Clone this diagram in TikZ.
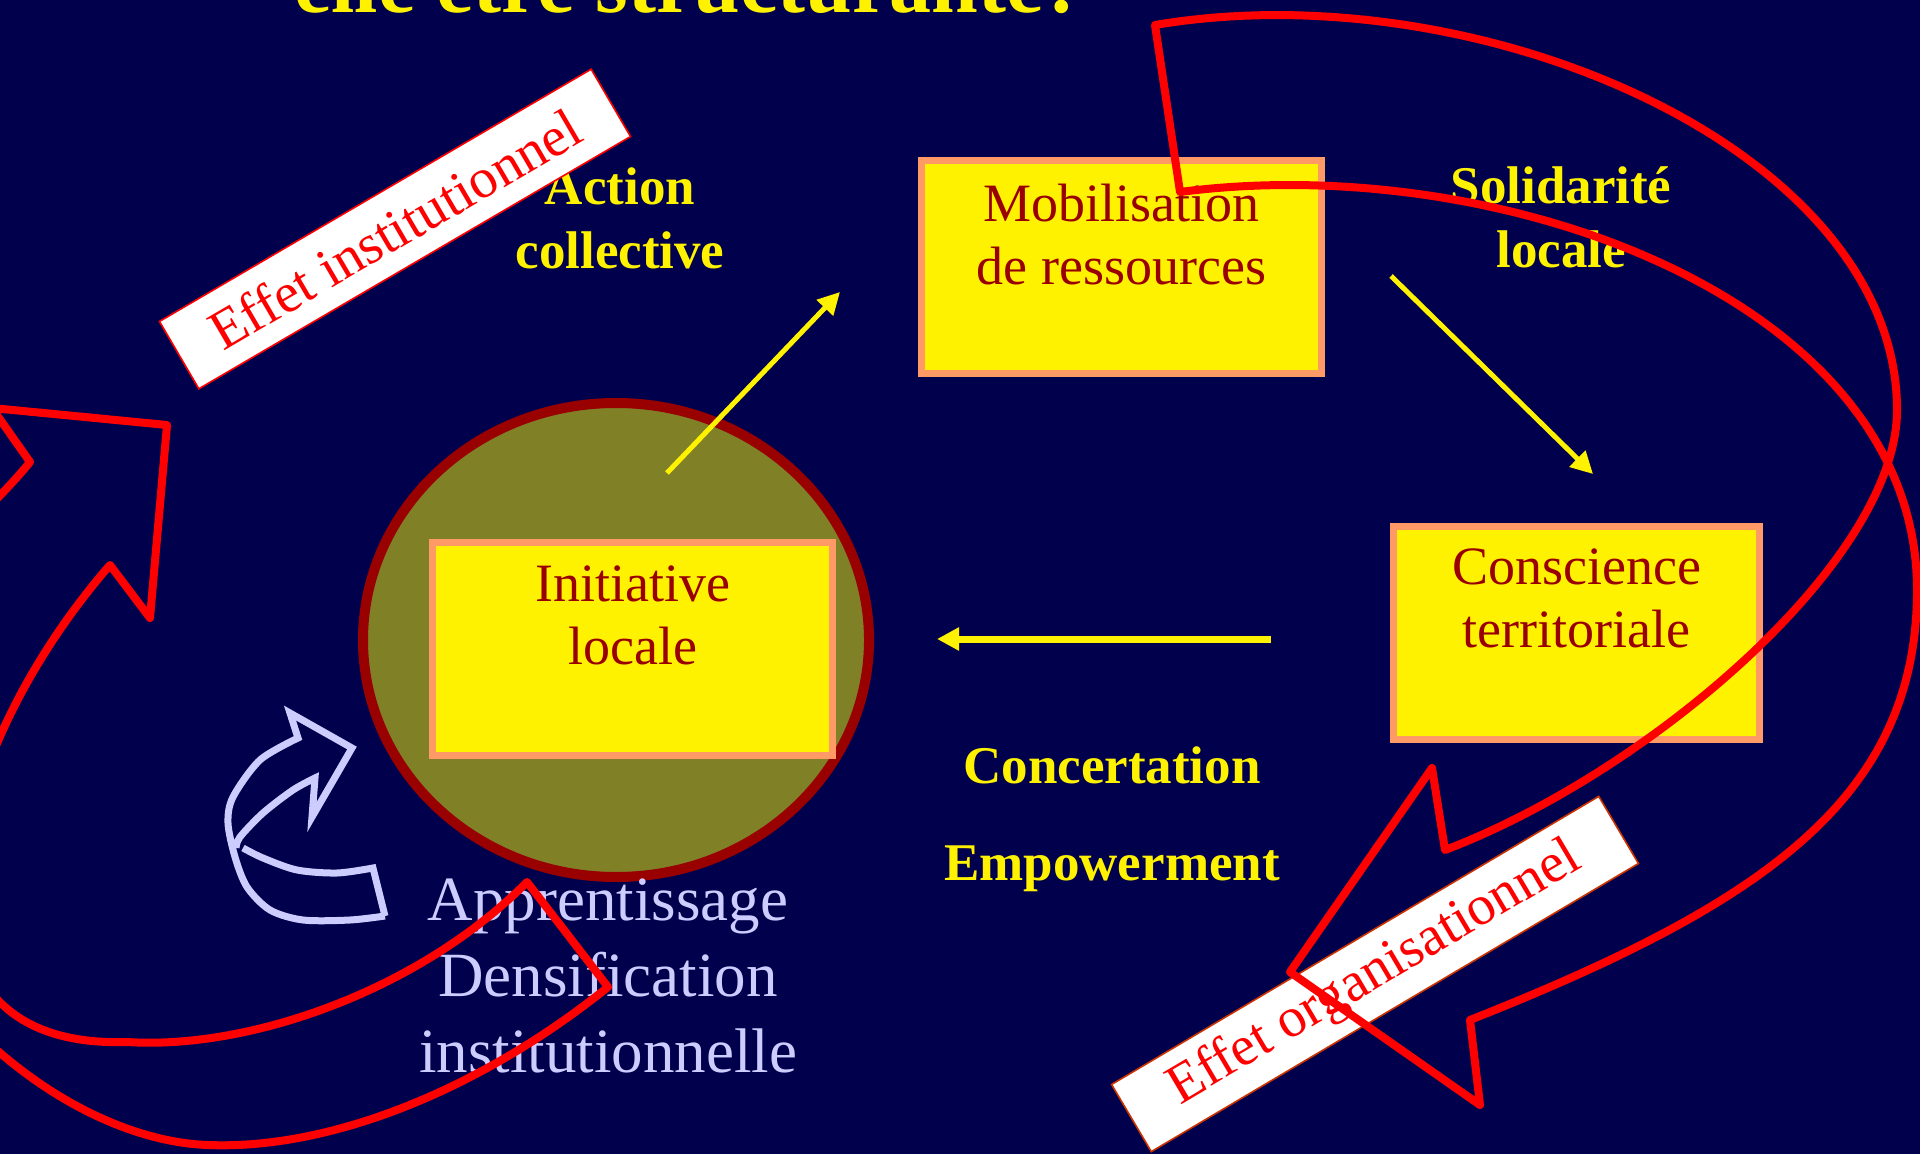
\documentclass[tikz,border=0pt]{standalone}
\usepackage{fontspec}
\setmainfont{Liberation Serif}
\usepackage{tikz}
\usetikzlibrary{shapes.geometric,arrows.meta}

\definecolor{bgblue}{RGB}{0,0,77}
\definecolor{boxedge}{RGB}{255,153,102}
\definecolor{boxred}{RGB}{153,0,0}
\definecolor{foyerolive}{RGB}{128,128,38}
\definecolor{lavender}{RGB}{204,204,255}
\definecolor{orgedge}{RGB}{204,51,0}

\begin{document}
\begin{tikzpicture}[x=0.5pt,y=-0.5pt,
    box/.style={draw=boxedge, fill=yellow, line width=3.5pt, minimum height=106.5pt, inner sep=0pt},
    boxtext/.style={text=boxred, font=\fontsize{27}{31.5}\selectfont, align=center, inner sep=0pt, anchor=north},
    keyword/.style={text=yellow, font=\bfseries\fontsize{26.5}{32}\selectfont, align=center, inner sep=0pt},
    tag/.style={draw=#1, fill=white, text=red, line width=0.8pt, font=\fontsize{28}{34}\selectfont, minimum height=39pt, inner sep=0pt},
    flowarrow/.style={draw=yellow, line width=2.5pt, -{Triangle[length=11pt,width=11pt]}},
    bigarrow/.style={draw=red, line width=4pt, line join=round},
    curlarrow/.style={draw=lavender, line width=3.5pt}]

    % Background
    \fill[bgblue] (0,0) rectangle (1920,1154);
    \useasboundingbox (0,0) rectangle (1920,1154);
    \clip (0,0) rectangle (1920,1154);

    % Title (cut by the top edge)
    \node[keyword, font=\bfseries\fontsize{42}{50}\selectfont, anchor=base] (title) at (690,13) {elle être structurante?};

    % Local focus
    \node[ellipse, draw=boxred, fill=foyerolive, line width=5pt, minimum width=253pt, minimum height=237pt, inner sep=0pt] (foyer) at (616,640) {};

    % Boxes
    \node[box, minimum width=200pt] (mob) at (1121.5,267) {};
    \node[box, minimum width=200pt] (init) at (632.5,649) {};
    \node[box, minimum width=183pt] (consc) at (1576.5,633) {};
    \node[boxtext] (mobtxt) at (1121.5,184) {Mobilisation\\de ressources};
    \node[boxtext] (inittxt) at (632.5,565) {Initiative\\locale};
    \node[boxtext] (consctxt) at (1576.5,548) {Conscience\\territoriale};

    % Cycle arrows
    \coordinate (act1) at (667,473);
    \coordinate (act2) at (840,292);
    \coordinate (sol1) at (1391,276);
    \coordinate (sol2) at (1593,474);
    \coordinate (con1) at (1271,639);
    \coordinate (con2) at (937,639);
    \draw[flowarrow] (act1) -- (act2);
    \draw[flowarrow] (sol1) -- (sol2);
    \draw[flowarrow, line width=3.5pt] (con1) -- (con2);

    % Labels
    \node[keyword, anchor=north] (action) at (620,167) {Action\\collective};
    \node[keyword, anchor=north] (solid) at (1561,166) {Solidarité\\locale};
    \node[keyword, anchor=base] (concert) at (1112,783) {Concertation};
    \node[keyword, anchor=base] (empow) at (1112,880) {Empowerment};
    \node[text=lavender, font=\fontsize{31.5}{38}\selectfont, align=center, inner sep=0pt, anchor=north] (appr) at (608,878) {Apprentissage\\Densification\\institutionnelle};

    % Learning loop
    \draw[curlarrow] (385,916) -- (373,868) -- plot[smooth] coordinates {(373,868) (337,873) (297,870) (263,858) (243,848)};
    \draw[curlarrow] plot[smooth] coordinates {(385,916) (350,920) (303,920) (270,910) (247,887) (235,857) (228,823) (233,797) (260,760) (298,738)}
        -- (290,713) -- (352,748) -- (312,817) -- (315,778)
        -- plot[smooth] coordinates {(315,778) (293,790) (263,813) (240,837) (236,848)};

    % Effects
    \node[tag=red, minimum width=250pt, rotate=30.3] (effinst) at (395,229) {Effet institutionnel};
    \node[tag=orgedge, minimum width=283pt, rotate=30.6] (efforg) at (1375,974) {Effet organisationnel};

    \draw[bigarrow] (110,565) .. controls (-60,760) and (-120,1050) .. (127,1042)
        .. controls (250,1050) and (420,990) .. (527,882) -- (608,987)
        .. controls (480,1090) and (330,1150) .. (208,1145)
        .. controls (60,1140) and (-130,980) .. (-150,780)
        .. controls (-150,620) and (-20,525) .. (30,462)
        -- (-8,408) -- (167,425) -- (150,618) -- cycle;

    \draw[bigarrow] (1180,192) -- (1155,25)
        .. controls (1480,-30) and (1897,150) .. (1897,410)
        .. controls (1897,560) and (1650,772) .. (1445,850)
        -- (1432,768) -- (1290,972) -- (1480,1105) -- (1470,1020)
        .. controls (1760,905) and (1917,800) .. (1917,590)
        .. controls (1917,300) and (1500,150) .. (1180,192) -- cycle;
\end{tikzpicture}
\end{document}
